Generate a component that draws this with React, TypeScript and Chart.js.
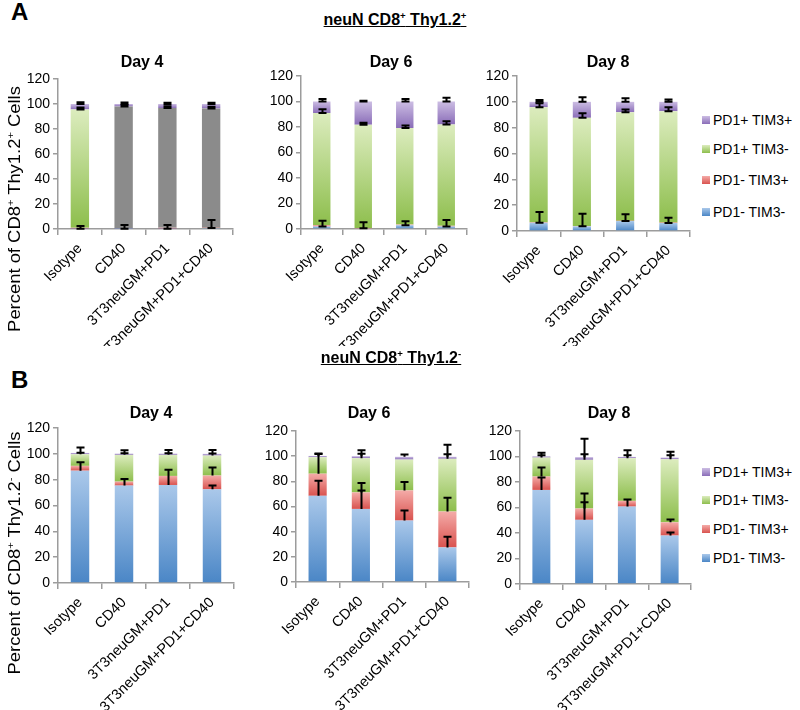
import React, { useEffect, useRef } from "react";
import { Chart, registerables } from "chart.js";

Chart.register(...registerables);

// ---------- data ----------
const categories = ["Isotype", "CD40", "3T3neuGM+PD1", "3T3neuGM+PD1+CD40"];
const seriesLabels = ["PD1- TIM3-", "PD1- TIM3+", "PD1+ TIM3-", "PD1+ TIM3+"];
const yMin = 0;
const yMax = 120;
const yStep = 20;

// segment heights (%), rows = PD1- TIM3-, PD1- TIM3+, PD1+ TIM3-, PD1+ TIM3+
const thyPosDay4 = [[0.3, 0.2, 0.3, 0.8], [0.7, 0.3, 0.7, 0.2], [94.7, 97.6, 95.8, 95.5], [4.3, 1.9, 3.2, 3.5]];
const thyPosDay4Err = [[2.2, 3, 3, 6.4], [0, 0, 0, 0], [1.5, 1, 1.5, 1.3], [1.5, 1.3, 1, 1]];
const thyPosDay6 = [[2, 0.5, 3, 2], [1, 0.3, 0.5, 0.5], [88, 81, 75.7, 79.5], [9, 18.2, 20.8, 18]];
const thyPosDay6Err = [[4.5, 4.7, 3, 5], [0, 0, 0, 0], [3, 1.5, 2, 2.5], [2, 0.5, 2, 3]];
const thyPosDay8 = [[6.4, 3.6, 7.7, 6.2], [0.3, 0.2, 0.3, 0.3], [89.2, 83.8, 84, 86.3], [4.1, 12.4, 8, 7.2]];
const thyPosDay8Err = [[8.3, 9.8, 5.2, 4.1], [0, 0, 0, 0], [3, 3.6, 2, 3], [1.5, 3.6, 2.8, 1.8]];

const thyNegDay4 = [[87, 75.4, 75.9, 72.5], [3.7, 3.1, 7, 10.7], [9, 20.7, 16.3, 15.5], [1, 1, 1, 1.3]];
const thyNegDay4Err = [[6.5, 5.2, 11.7, 3], [0, 0, 0, 6.2], [1.2, 1.2, 1.2, 1.5], [4.3, 2.5, 2.7, 3]];
const thyNegDay6 = [[68.5, 58.1, 48.8, 27.5], [17.6, 13.1, 24, 28.5], [13.1, 27.2, 24.5, 41.9], [1, 1.6, 2.2, 1.6]];
const thyNegDay6Err = [[12, 14.7, 8, 8.5], [16, 7.5, 6.7, 11], [0, 3.6, 0, 3.7], [1.5, 4.8, 1.8, 9.5]];
const thyNegDay8 = [[73.8, 50.3, 60.7, 38], [10.5, 8.9, 4.5, 10.4], [14.9, 38.2, 33.5, 49.5], [1, 2.1, 1, 1.3]];
const thyNegDay8Err = [[9.7, 13.8, 5.5, 2.3], [7.1, 11.7, 0, 2.1], [1.8, 4.4, 2.3, 3.1], [2.7, 14.4, 5.3, 4.5]];

// ---------- styles ----------
const FONT = "'Liberation Sans', Arial, Helvetica, sans-serif";
const AXIS_COLOR = "#9c9c9c";
const seriesLight = ["#aac8ea", "#f4aba8", "#dcecbe", "#ccbde3"];
const seriesDark = ["#4a86c6", "#d9534f", "#8dbe4c", "#8a6db8"];
const seriesSolid = ["#5b95d0", "#e4706b", "#a6cd66", "#9c83c6"];
const GREY = "#8b8b8b";
const Y_AXIS_W = 50;
const PAD_T = 12;
const PAD_R = 10;

type PanelCfg = {
  values: number[][];
  errors: number[][];
  greyMid: boolean[];
  bottomCap: boolean;
  left: number;
  right: number;
  top: number;
  bottom: number;
  canvasBottom: number;
};

const panelsA: PanelCfg[] = [
  { values: thyPosDay4, errors: thyPosDay4Err, greyMid: [false, true, true, true], bottomCap: true, left: 58, right: 233, top: 79, bottom: 229, canvasBottom: 346 },
  { values: thyPosDay6, errors: thyPosDay6Err, greyMid: [false, false, false, false], bottomCap: true, left: 301, right: 467, top: 76, bottom: 229, canvasBottom: 346 },
  { values: thyPosDay8, errors: thyPosDay8Err, greyMid: [false, false, false, false], bottomCap: true, left: 517, right: 690, top: 76, bottom: 231, canvasBottom: 346 },
];
const panelsB: PanelCfg[] = [
  { values: thyNegDay4, errors: thyNegDay4Err, greyMid: [false, false, false, false], bottomCap: false, left: 58, right: 234, top: 428, bottom: 583, canvasBottom: 710 },
  { values: thyNegDay6, errors: thyNegDay6Err, greyMid: [false, false, false, false], bottomCap: false, left: 296, right: 469, top: 431, bottom: 582, canvasBottom: 710 },
  { values: thyNegDay8, errors: thyNegDay8Err, greyMid: [false, false, false, false], bottomCap: false, left: 520, right: 691, top: 431, bottom: 584, canvasBottom: 710 },
];

function baseOf(values: number[][], si: number, i: number) {
  let s = 0;
  for (let k = 0; k < si; k++) s += values[k][i];
  return s;
}

const errorBarPlugin = {
  id: "errorBars",
  afterDatasetsDraw(chart: any, _args: any, opts: any) {
    const { errors, values, bottomCap } = opts;
    if (!errors) return;
    const ctx = chart.ctx;
    const y = chart.scales.y;
    ctx.save();
    ctx.strokeStyle = "#000";
    ctx.lineWidth = 2;
    chart.data.datasets.forEach((_ds: any, si: number) => {
      const meta = chart.getDatasetMeta(si);
      meta.data.forEach((bar: any, i: number) => {
        const e = errors[si][i];
        if (!e) return;
        const top = baseOf(values, si, i) + values[si][i];
        const y0 = y.getPixelForValue(top);
        const y1 = y.getPixelForValue(top + e);
        const x = Math.round(bar.x) + 0.5;
        const hw = 4;
        ctx.beginPath();
        ctx.moveTo(x, y0);
        ctx.lineTo(x, y1);
        ctx.moveTo(x - hw, y1);
        ctx.lineTo(x + hw, y1);
        if (bottomCap) {
          ctx.moveTo(x - hw, y0);
          ctx.lineTo(x + hw, y0);
        }
        ctx.stroke();
      });
    });
    ctx.restore();
  },
};

function Panel({ cfg }: { cfg: PanelCfg }) {
  const ref = useRef<HTMLCanvasElement>(null);
  const cLeft = cfg.left - Y_AXIS_W;
  const cTop = cfg.top - PAD_T;
  const w = cfg.right + PAD_R - cLeft;
  const h = cfg.canvasBottom - cTop;
  const xh = cfg.canvasBottom - cfg.bottom;

  useEffect(() => {
    const canvas = ref.current!;
    const fill = (c: any, si: number) => {
      if (c.type !== "data") return seriesSolid[si];
      const i = c.dataIndex;
      if (si === 2 && cfg.greyMid[i]) return GREY;
      const chart = c.chart;
      const ys = chart.scales && chart.scales.y;
      if (!chart.chartArea || !ys) return seriesSolid[si];
      const b = baseOf(cfg.values, si, i);
      const t = b + cfg.values[si][i];
      const yT = ys.getPixelForValue(t);
      const yB = ys.getPixelForValue(b);
      if (!isFinite(yT) || !isFinite(yB) || yB - yT < 0.5) return seriesSolid[si];
      const g = chart.ctx.createLinearGradient(0, yT, 0, yB);
      g.addColorStop(0, seriesLight[si]);
      g.addColorStop(1, seriesDark[si]);
      return g;
    };
    const chart = new Chart(canvas, {
      type: "bar",
      data: {
        labels: categories,
        datasets: cfg.values.map((vals, si) => ({
          label: seriesLabels[si],
          data: vals,
          backgroundColor: (c: any) => fill(c, si),
          borderWidth: 0,
          barPercentage: 0.42,
          categoryPercentage: 1,
        })),
      },
      options: {
        responsive: false,
        animation: false,
        layout: { autoPadding: false, padding: { top: PAD_T, right: PAD_R, left: 0, bottom: 0 } },
        plugins: {
          legend: { display: false },
          tooltip: { enabled: false },
          errorBars: { errors: cfg.errors, values: cfg.values, bottomCap: cfg.bottomCap },
        } as any,
        scales: {
          x: {
            stacked: true,
            grid: { display: true, drawOnChartArea: false, drawTicks: true, tickLength: 6, color: AXIS_COLOR, offset: true, lineWidth: 1.5 },
            border: { display: true, color: AXIS_COLOR, width: 1.5 },
            ticks: { color: "#000", font: { family: FONT, size: 14.5 }, minRotation: 45, maxRotation: 45, autoSkip: false, padding: 5 },
            afterFit: (s: any) => { s.height = xh; },
          },
          y: {
            stacked: true,
            min: yMin,
            max: yMax,
            grid: { display: true, drawOnChartArea: false, drawTicks: true, tickLength: 5, color: AXIS_COLOR, lineWidth: 1.5 },
            border: { display: true, color: AXIS_COLOR, width: 1.5 },
            ticks: { stepSize: yStep, color: "#000", font: { family: FONT, size: 14 }, padding: 3 },
            afterFit: (s: any) => { s.width = Y_AXIS_W; },
          },
        },
      } as any,
      plugins: [errorBarPlugin as any],
    });
    return () => chart.destroy();
  }, []);

  return (
    <canvas
      ref={ref}
      width={w}
      height={h}
      style={{ position: "absolute", left: cLeft, top: cTop, width: w, height: h }}
    />
  );
}

const abs = (left: number, top: number, extra: React.CSSProperties = {}): React.CSSProperties => ({
  position: "absolute",
  left,
  top,
  fontFamily: FONT,
  color: "#000",
  whiteSpace: "nowrap",
  ...extra,
});

function CenterText({ x, y, size, bold, children }: any) {
  return (
    <div style={abs(x - 150, y - size * 0.6, { width: 300, textAlign: "center", fontSize: size, fontWeight: bold ? "bold" : "normal", lineHeight: `${size * 1.2}px` })}>
      {children}
    </div>
  );
}

function YTitle({ x, y, sign }: { x: number; y: number; sign: string }) {
  return (
    <div
      style={abs(x - 160, y - 11, {
        width: 320,
        height: 22,
        lineHeight: "22px",
        textAlign: "center",
        fontSize: 16,
        transform: "rotate(-90deg) scaleX(1.15)",
        transformOrigin: "50% 50%",
      })}
    >
      Percent of CD8<sup style={{ fontSize: "0.6em" }}>+</sup> Thy1.2<sup style={{ fontSize: "0.6em" }}>{sign}</sup> Cells
    </div>
  );
}

function Legend({ ys }: { ys: number[] }) {
  const order = [3, 2, 1, 0];
  return (
    <>
      {order.map((si, k) => (
        <div key={si} style={abs(702, ys[k] - 10, { height: 20, lineHeight: "20px", fontSize: 14, display: "flex", alignItems: "center" })}>
          <span
            style={{
              display: "inline-block",
              width: 8,
              height: 8,
              marginRight: 3,
              background: `linear-gradient(${seriesLight[si]}, ${seriesDark[si]})`,
            }}
          />
          {seriesLabels[si]}
        </div>
      ))}
    </>
  );
}

export default function App() {
  return (
    <div style={{ position: "absolute", left: 0, top: 0, width: 800, height: 710, background: "#fff", overflow: "hidden" }}>
      <div style={abs(11, -2, { fontSize: 24, fontWeight: "bold", lineHeight: "28px" })}>A</div>
      <div style={abs(11, 366, { fontSize: 24, fontWeight: "bold", lineHeight: "28px" })}>B</div>
      <CenterText x={395} y={15} size={16} bold>
        <span style={{ textDecoration: "underline" }}>
          neuN CD8<sup style={{ fontSize: "0.6em" }}>+</sup> Thy1.2<sup style={{ fontSize: "0.6em" }}>+</sup>
        </span>
      </CenterText>

      {panelsA.map((p, i) => <Panel key={"a" + i} cfg={p} />)}
      {panelsB.map((p, i) => <Panel key={"b" + i} cfg={p} />)}

      <CenterText x={391} y={353} size={16} bold>
        <span style={{ textDecoration: "underline", background: "#fff" }}>
          neuN CD8<sup style={{ fontSize: "0.6em" }}>+</sup> Thy1.2<sup style={{ fontSize: "0.6em" }}>-</sup>
        </span>
      </CenterText>

      <CenterText x={142} y={62} size={16} bold>Day 4</CenterText>
      <CenterText x={391} y={62} size={16} bold>Day 6</CenterText>
      <CenterText x={608} y={62} size={16} bold>Day 8</CenterText>
      <CenterText x={151} y={413} size={16} bold>Day 4</CenterText>
      <CenterText x={369} y={413} size={16} bold>Day 6</CenterText>
      <CenterText x={609} y={413} size={16} bold>Day 8</CenterText>

      <YTitle x={11} y={209} sign="+" />
      <YTitle x={11} y={553} sign="-" />

      <Legend ys={[120, 149, 180, 212]} />
      <Legend ys={[472, 500, 529, 558]} />
    </div>
  );
}
